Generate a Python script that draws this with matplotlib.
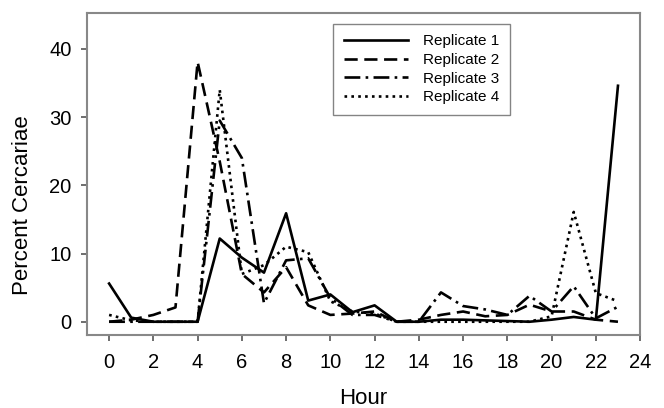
import matplotlib
matplotlib.use("Agg")
import matplotlib.pyplot as plt

plt.rcParams['font.family'] = ['Liberation Sans', 'DejaVu Sans']

hours = list(range(24))
rep1 = [5.6, 0.6, 0, 0, 0, 12.2, 9.4, 7.2, 15.9, 3.1, 4.0, 1.4, 2.4, 0, 0,
        0.3, 0.3, 0.2, 0.1, 0, 0.3, 0.7, 0.3, 34.6]
rep2 = [0, 0.3, 1.0, 2.1, 38.1, 23.5, 7.0, 4.3, 8.0, 2.4, 1.0, 1.2, 1.5, 0, 0.3,
        1.0, 1.5, 0.8, 1.0, 2.5, 1.5, 1.5, 0.3, 0]
rep3 = [0, 0, 0, 0, 0, 29.5, 24.0, 2.7, 9.0, 9.3, 3.5, 1.0, 1.0, 0, 0,
        4.3, 2.3, 1.8, 1.0, 3.8, 1.5, 5.2, 0.5, 2.2]
rep4 = [1.0, 0.2, 0, 0, 0, 34.0, 7.0, 8.3, 11.0, 10.2, 3.0, 1.5, 1.2, 0, 0,
        0, 0, 0, 0, 0, 0.8, 16.1, 4.2, 3.0]
labels = ['Replicate 1', 'Replicate 2', 'Replicate 3', 'Replicate 4']

fig = plt.figure(figsize=(6.64, 4.08), dpi=100)
ax = fig.add_axes([0.131, 0.178, 0.833, 0.789])

lw = 1.9
ax.plot(hours, rep1, color='black', lw=lw, linestyle='-', label=labels[0])
ax.plot(hours, rep2, color='black', lw=lw, linestyle=(0, (5, 2.5)), label=labels[1])
ax.plot(hours, rep3, color='black', lw=lw, linestyle=(0, (6, 2, 1, 2)), label=labels[2])
ax.plot(hours, rep4, color='black', lw=lw, linestyle=(0, (1, 1.6)), label=labels[3])

ax.set_xlim(-1, 24)
ax.set_ylim(-2, 45.2)
ax.set_xticks(range(0, 25, 2))
ax.set_yticks(range(0, 41, 10))
ax.tick_params(direction='out', length=4, width=1.2, color='#555555',
               labelsize=14.5)
ax.tick_params(axis='x', pad=9)
ax.tick_params(axis='y', pad=7)
for sp in ax.spines.values():
    sp.set_color('#888888')
    sp.set_linewidth(1.5)

ax.set_xlabel('Hour', fontsize=16, labelpad=11)
ax.set_ylabel('Percent Cercariae', fontsize=16)
ax.yaxis.set_label_coords(-0.098, 0.405)

leg = ax.legend(loc='upper left', bbox_to_anchor=(0.445, 0.968), fontsize=11,
                frameon=True, fancybox=False, handlelength=4.2,
                labelspacing=0.3, borderpad=0.7, handletextpad=1.0,
                borderaxespad=0)
leg.get_frame().set_edgecolor('#666666')
leg.get_frame().set_linewidth(1.0)

fig.savefig('out.png', dpi=100)
